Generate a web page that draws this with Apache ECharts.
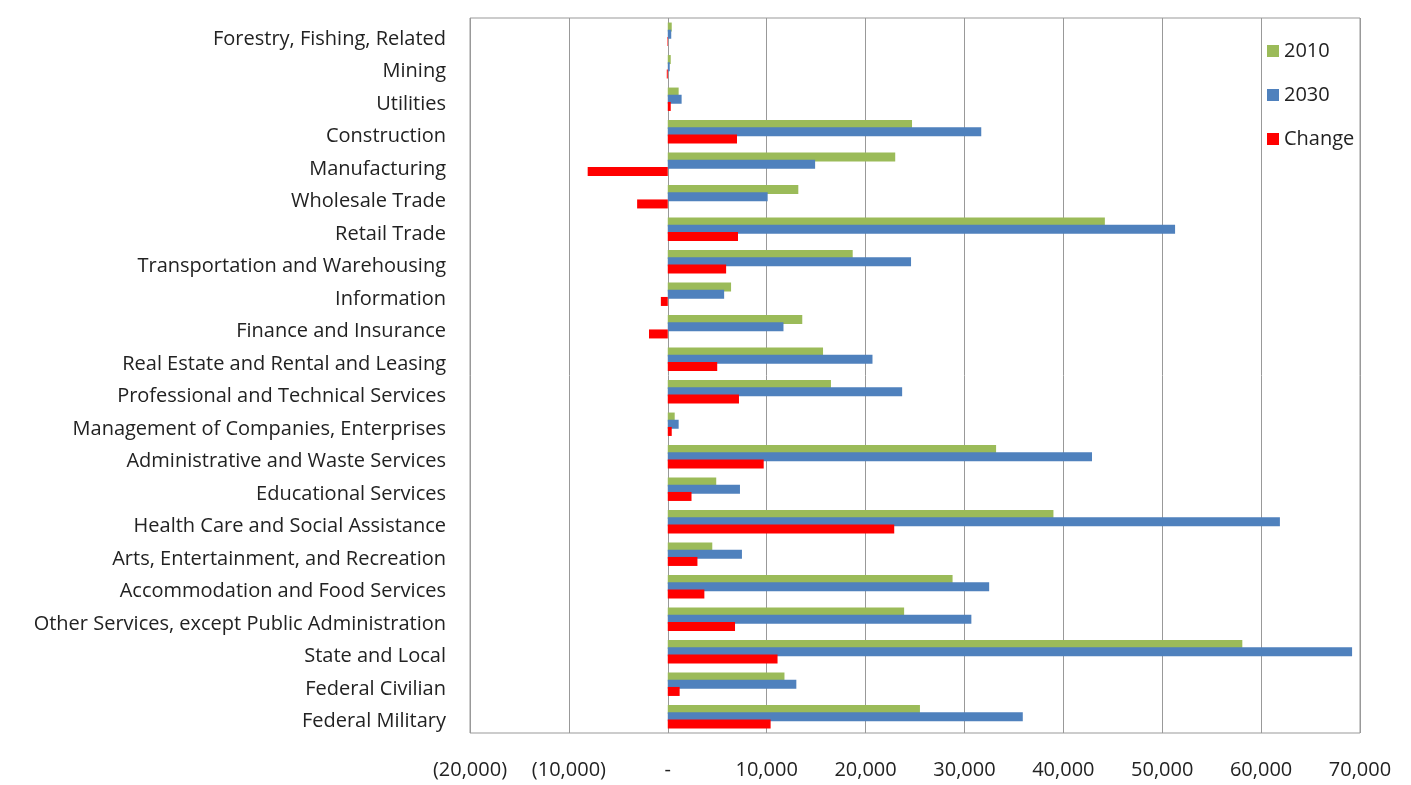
<!DOCTYPE html>
<html><head><meta charset="utf-8">
<script src="https://cdn.jsdelivr.net/npm/echarts@6/dist/echarts.min.js"></script>
<style>html,body{margin:0;padding:0;background:#fff}#c{width:1411px;height:785px}</style>
</head><body><div id="c"></div>
<script>
const categories = ["Forestry, Fishing, Related","Mining","Utilities","Construction","Manufacturing","Wholesale Trade","Retail Trade","Transportation and Warehousing","Information","Finance and Insurance","Real Estate and Rental and Leasing","Professional and Technical Services","Management of Companies, Enterprises","Administrative and Waste Services","Educational Services","Health Care and Social Assistance","Arts, Entertainment, and Recreation","Accommodation and Food Services","Other Services, except Public Administration","State and Local","Federal Civilian","Federal Military"];
const values2010 = [400,300,1100,24700,23000,13200,44200,18700,6400,13600,15700,16500,700,33200,4900,39000,4500,28800,23900,58100,11800,25500];
const values2030 = [350,200,1400,31700,14900,10100,51300,24600,5700,11700,20700,23700,1100,42900,7300,61900,7500,32500,30700,69200,13000,35900];
const valuesChange = [-50,-100,300,7000,-8100,-3100,7100,5900,-700,-1900,5000,7200,400,9700,2400,22900,3000,3700,6800,11100,1200,10400];
const seriesNames = ["2010","2030","Change"];

const chart = echarts.init(document.getElementById('c'));
const font = '"Open Sans", Lato, sans-serif';
function fmt(v){
  if (v === 0) return '-';
  const s = Math.abs(v).toLocaleString('en-US');
  return v < 0 ? '(' + s + ')' : s;
}
chart.setOption({
  animation:false,
  grid:{left:470,right:51,top:18,bottom:52,show:true,borderColor:'#999',borderWidth:1},
  legend:{orient:'vertical',left:1265,top:37,itemWidth:12,itemHeight:12,itemGap:24,
    backgroundColor:'#fff',padding:[4,4,4,2],icon:'rect',
    textStyle:{fontFamily:font,fontSize:20,color:'#222'},data:seriesNames},
  xAxis:{type:'value',min:-20000,max:70000,interval:10000,
    axisLine:{show:false},axisTick:{show:false},
    splitLine:{show:true,lineStyle:{color:'#999',width:1}},
    axisLabel:{formatter:fmt,fontFamily:font,fontSize:20,color:'#222',margin:27}},
  yAxis:{type:'category',data:categories,inverse:true,
    axisLine:{show:false},axisTick:{show:false},
    axisLabel:{fontFamily:font,fontSize:20,color:'#222',margin:24,verticalAlign:'top',lineHeight:10}},
  series:[
    {name:seriesNames[0],type:'bar',data:values2010,barWidth:9,barGap:'-20%',itemStyle:{color:'#9bbb59'}},
    {name:seriesNames[1],type:'bar',data:values2030,barWidth:9,barGap:'-20%',itemStyle:{color:'#4f81bd'}},
    {name:seriesNames[2],type:'bar',data:valuesChange,barWidth:9,barGap:'-20%',itemStyle:{color:'#ff0000'}}
  ]
});
</script></body></html>
